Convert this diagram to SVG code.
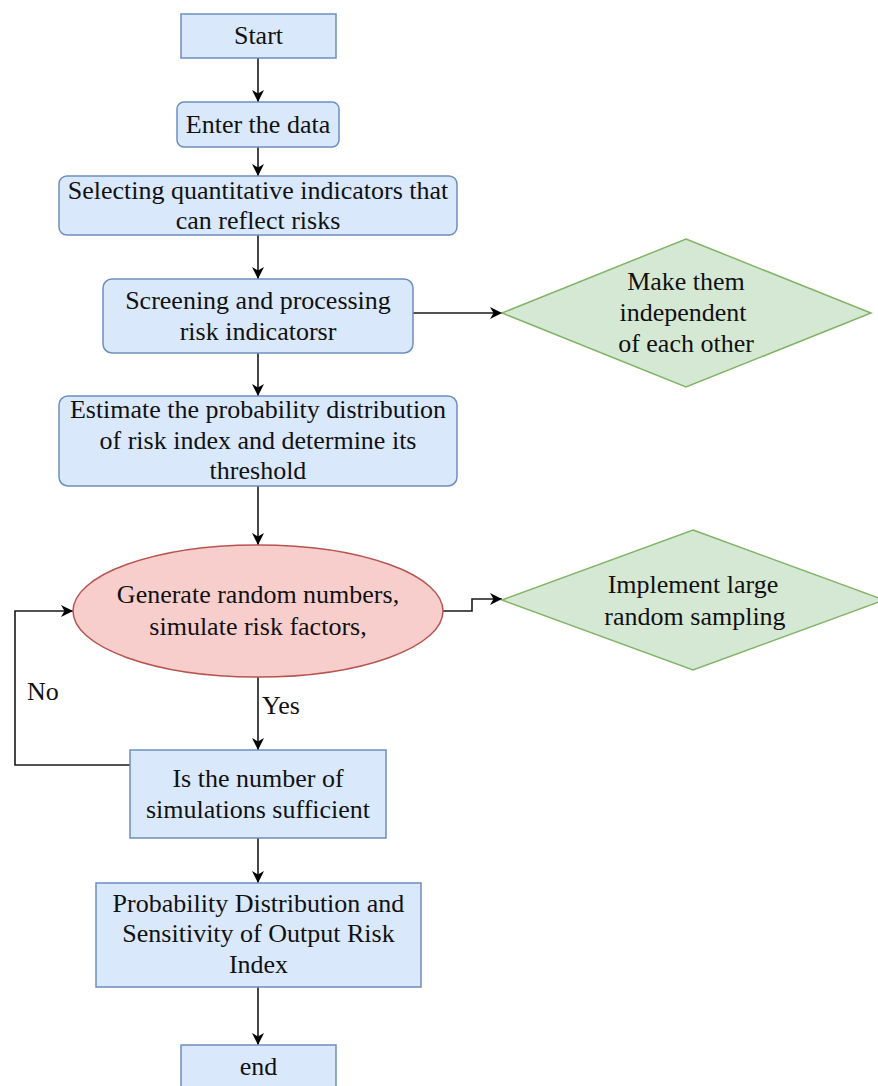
<svg xmlns="http://www.w3.org/2000/svg" width="878" height="1086" viewBox="0 0 878 1086">
<defs>
<marker id="arr" markerUnits="userSpaceOnUse" markerWidth="14" markerHeight="12" refX="12" refY="6" orient="auto">
<path d="M0,0 L12,6 L0,12 L3.5,6 Z" fill="#000"/>
</marker>
<style>
.blue{fill:#dae8fc;stroke:#6c8ebf;stroke-width:1.5}
.green{fill:#d5e8d4;stroke:#82b366;stroke-width:1.5}
.red{fill:#f8cecc;stroke:#b85450;stroke-width:1.5}
text{font-size:26px;fill:#111;text-anchor:middle}
.edge{fill:none;stroke:#1a1a1a;stroke-width:1.6}
.lbl{text-anchor:start}
</style>
</defs>
<rect width="878" height="1086" fill="#fff"/>
<g font-family="Liberation Serif, serif">
<g id="connectors">
<path class="edge" d="M258,58 L258,102" marker-end="url(#arr)"/>
<path class="edge" d="M258,147 L258,176" marker-end="url(#arr)"/>
<path class="edge" d="M258,235 L258,279" marker-end="url(#arr)"/>
<path class="edge" d="M413,313 L502,313" marker-end="url(#arr)"/>
<path class="edge" d="M258,353 L258,396" marker-end="url(#arr)"/>
<path class="edge" d="M258,486 L258,545" marker-end="url(#arr)"/>
<path class="edge" d="M443,611 L472,611 L472,599 L502,599" marker-end="url(#arr)"/>
<path class="edge" d="M258,677 L258,750" marker-end="url(#arr)"/>
<path class="edge" d="M130,765 L15,765 L15,611 L73,611" marker-end="url(#arr)"/>
<path class="edge" d="M258,838 L258,883" marker-end="url(#arr)"/>
<path class="edge" d="M258,987 L258,1045" marker-end="url(#arr)"/>
<text class="lbl" x="27" y="700">No</text>
<text class="lbl" x="262" y="714">Yes</text>
</g>
<g id="start">
<rect class="blue" x="181" y="14" width="155" height="44"/>
<text x="258.5" y="44">Start</text>
</g>
<g id="enter">
<rect class="blue" x="177" y="102" width="162" height="45" rx="7"/>
<text x="258" y="133">Enter the data</text>
</g>
<g id="selecting">
<rect class="blue" x="59" y="176" width="398" height="59" rx="8"/>
<text x="258" y="199">Selecting quantitative indicators that</text>
<text x="258" y="229">can reflect risks</text>
</g>
<g id="screening">
<rect class="blue" x="103" y="279" width="310" height="74" rx="9"/>
<text x="258" y="309">Screening and processing</text>
<text x="258" y="340">risk indicatorsr</text>
</g>
<g id="independent">
<polygon class="green" points="686,239 871,313 686,387 502,313"/>
<text x="686" y="290">Make them</text>
<text x="683" y="321">independent</text>
<text x="686" y="352">of each other</text>
</g>
<g id="estimate">
<rect class="blue" x="59" y="396" width="398" height="90" rx="9"/>
<text x="258" y="418">Estimate the probability distribution</text>
<text x="258" y="449">of risk index and determine its</text>
<text x="258" y="479">threshold</text>
</g>
<g id="generate">
<ellipse class="red" cx="258" cy="611" rx="185" ry="66"/>
<text x="258" y="603">Generate random numbers,</text>
<text x="258" y="635">simulate risk factors,</text>
</g>
<g id="sampling">
<polygon class="green" points="693,530 884,600 693,670 502,600"/>
<text x="693" y="593">Implement large</text>
<text x="695" y="625">random sampling</text>
</g>
<g id="sufficient">
<rect class="blue" x="130" y="750" width="256" height="88"/>
<text x="258" y="787">Is the number of</text>
<text x="258" y="818">simulations sufficient</text>
</g>
<g id="output">
<rect class="blue" x="96" y="883" width="325" height="104"/>
<text x="258.5" y="912">Probability Distribution and</text>
<text x="258.5" y="942">Sensitivity of Output Risk</text>
<text x="258.5" y="973">Index</text>
</g>
<g id="end">
<rect class="blue" x="181" y="1045" width="155" height="45"/>
<text x="258.5" y="1075">end</text>
</g>
</g>
</svg>
